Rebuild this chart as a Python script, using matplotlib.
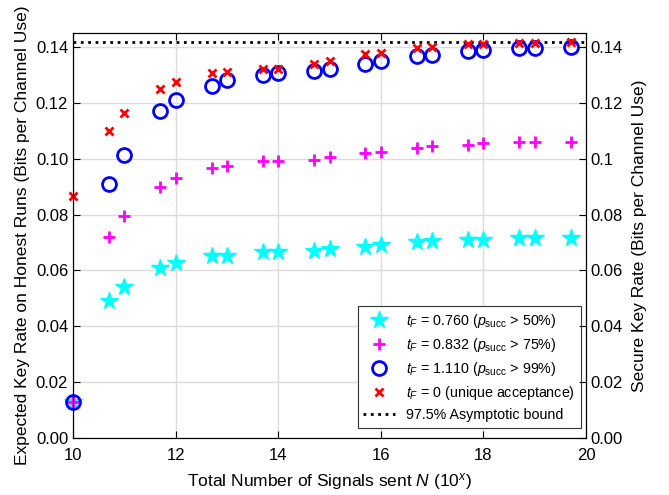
import matplotlib
matplotlib.use('Agg')
import matplotlib.pyplot as plt
from matplotlib.ticker import FuncFormatter

plt.rcParams['font.family'] = ['Liberation Sans', 'DejaVu Sans']
plt.rcParams['mathtext.fontset'] = 'custom'
plt.rcParams['mathtext.rm'] = 'Liberation Sans'
plt.rcParams['mathtext.it'] = 'Liberation Sans:italic'

# log10 of number of signals
x_vals = [10, 10.7, 11, 11.7, 12, 12.7, 13, 13.7, 14, 14.7, 15, 15.7, 16, 16.7, 17, 17.7, 18, 18.7, 19, 19.7]

rate_076 = [0.013, 0.049, 0.054, 0.061, 0.0625, 0.065, 0.065, 0.0665, 0.0665, 0.067,
            0.0675, 0.0685, 0.069, 0.070, 0.0705, 0.071, 0.071, 0.0715, 0.0715, 0.0715]
rate_0832 = [0.013, 0.072, 0.0795, 0.090, 0.093, 0.0965, 0.0975, 0.099, 0.0993, 0.0997,
             0.1005, 0.102, 0.1025, 0.104, 0.1045, 0.105, 0.1055, 0.106, 0.106, 0.106]
rate_111 = [0.013, 0.091, 0.1013, 0.117, 0.121, 0.126, 0.128, 0.130, 0.1305, 0.1313,
            0.132, 0.134, 0.1348, 0.1368, 0.137, 0.1385, 0.139, 0.1395, 0.1397, 0.140]
rate_unique = [0.0865, 0.110, 0.1165, 0.125, 0.1275, 0.1305, 0.131, 0.132, 0.132, 0.134,
               0.135, 0.1375, 0.138, 0.1398, 0.140, 0.141, 0.141, 0.1415, 0.1415, 0.1418]
asymptotic_bound = 0.1416

y_ticks = [0, 0.02, 0.04, 0.06, 0.08, 0.10, 0.12, 0.14]
right_labels = ['0.00', '0.02', '0.04', '0.06', '0.08', '0.1', '0.12', '0.14']

fig = plt.figure(figsize=(6.69, 4.95), dpi=100)
ax = fig.add_axes([73 / 669, 57 / 495, 513 / 669, 405 / 495])

ax.plot(x_vals, rate_076, linestyle='none', marker='*', color='cyan', markersize=13,
        label=r'$t_F$ = 0.760 ($p_{\mathrm{succ}}$ > 50%)', clip_on=False, zorder=3)
ax.plot(x_vals, rate_0832, linestyle='none', marker='+', color='magenta', markersize=9,
        markeredgewidth=2, label=r'$t_F$ = 0.832 ($p_{\mathrm{succ}}$ > 75%)', clip_on=False, zorder=3)
ax.plot(x_vals, rate_111, linestyle='none', marker='o', color='blue', markerfacecolor='none',
        markersize=10, markeredgewidth=2, label=r'$t_F$ = 1.110 ($p_{\mathrm{succ}}$ > 99%)',
        clip_on=False, zorder=3)
ax.plot(x_vals, rate_unique, linestyle='none', marker='x', color='red', markersize=6,
        markeredgewidth=2, label=r'$t_F$ = 0 (unique acceptance)', clip_on=False, zorder=4)
ax.axhline(asymptotic_bound, color='black', linestyle=':', linewidth=2,
           label='97.5% Asymptotic bound')

ax.set_xlim(10, 20)
ax.set_ylim(0, 0.145)
ax.set_xticks([10, 12, 14, 16, 18, 20])
ax.set_yticks(y_ticks)
ax.yaxis.set_major_formatter(FuncFormatter(lambda v, p: '%.2f' % v))
ax.grid(True, color='#dcdcdc', linewidth=1)
ax.set_axisbelow(True)
ax.tick_params(direction='in', top=True, labelsize=12, length=5)
ax.tick_params(axis='x', pad=7)
ax.set_xlabel(r'Total Number of Signals sent $N$ (10$^x$)', fontsize=12.5, labelpad=6)
ax.set_ylabel('Expected Key Rate on Honest Runs (Bits per Channel Use)', fontsize=12.5, labelpad=4)

ax2 = ax.twinx()
ax2.set_ylim(0, 0.145)
ax2.set_yticks(y_ticks)
ax2.set_yticklabels(right_labels)
ax2.tick_params(direction='in', labelsize=12, length=5)
ax2.set_ylabel('Secure Key Rate (Bits per Channel Use)', fontsize=12.5, labelpad=6)

leg = ax.legend(loc='lower right', fontsize=10.3, fancybox=False, edgecolor='#333333',
                framealpha=1, handlelength=2.2, borderpad=0.4, labelspacing=0.42,
                borderaxespad=0, bbox_to_anchor=(0.99, 0.025))
leg.get_frame().set_linewidth(0.8)

fig.savefig('out.png', dpi=100)
